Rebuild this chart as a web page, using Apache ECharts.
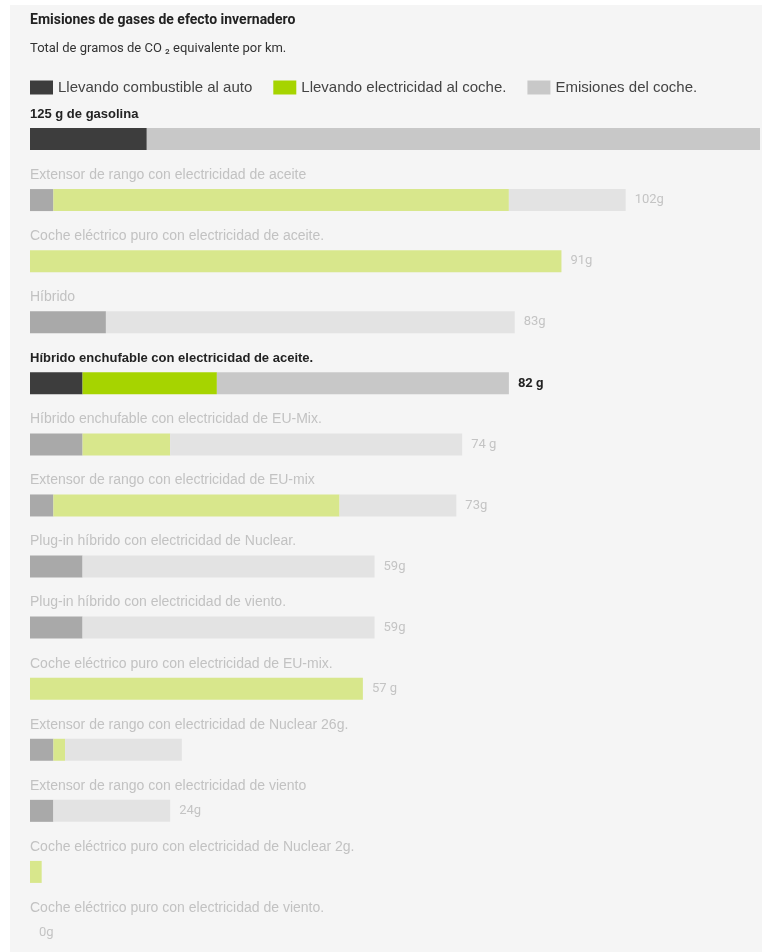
<!DOCTYPE html>
<html>
<head>
<meta charset="utf-8">
<script src="https://cdn.jsdelivr.net/npm/echarts@6/dist/echarts.min.js"></script>
<style>
  html, body { margin: 0; padding: 0; background: #fff; }
  #main { width: 766px; height: 952px; }
</style>
</head>
<body>
<div id="main"></div>
<script>
// filas, de arriba a abajo
const categories = [
  '125 g de gasolina',
  'Extensor de rango con electricidad de aceite',
  'Coche eléctrico puro con electricidad de aceite.',
  'Híbrido',
  'Híbrido enchufable con electricidad de aceite.',
  'Híbrido enchufable con electricidad de EU-Mix.',
  'Extensor de rango con electricidad de EU-mix',
  'Plug-in híbrido con electricidad de Nuclear.',
  'Plug-in híbrido con electricidad de viento.',
  'Coche eléctrico puro con electricidad de EU-mix.',
  'Extensor de rango con electricidad de Nuclear 26g.',
  'Extensor de rango con electricidad de viento',
  'Coche eléctrico puro con electricidad de Nuclear 2g.',
  'Coche eléctrico puro con electricidad de viento.'
];
const fuelToCar        = [20, 4, 0, 13, 9, 9, 4, 9, 9, 0, 4, 4, 0, 0];
const electricityToCar = [0, 78, 91, 0, 23, 15, 49, 0, 0, 57, 2, 0, 2, 0];
const carEmissions     = [105, 20, 0, 70, 50, 50, 20, 50, 50, 0, 20, 20, 0, 0];
const valueLabels = ['', '102g', '91g', '83g', '82 g', '74 g', '73g', '59g', '59g', '57 g', '', '24g', '', '0g'];
const highlighted = [true, false, false, false, true, false, false, false, false, false, false, false, false, false];

const colors = {
  fuel:  { hi: '#3d3d3d', lo: '#a9a9a9' },
  elec:  { hi: '#a6d400', lo: '#d8e78c' },
  emis:  { hi: '#c8c8c8', lo: '#e3e3e3' }
};

function paint(values, key) {
  return values.map((v, i) => ({
    value: v,
    itemStyle: { color: highlighted[i] ? colors[key].hi : colors[key].lo }
  }));
}

const chart = echarts.init(document.getElementById('main'));

const option = {
  backgroundColor: '#fff',
  animation: false,
  graphic: [{
    type: 'rect', z: -10, silent: true,
    shape: { x: 10, y: 5, width: 752, height: 947 },
    style: { fill: '#f5f5f5' }
  }],
  title: {
    text: 'Emisiones de gases de efecto invernadero',
    subtext: 'Total de gramos de CO ₂ equivalente por km.',
    left: 30, top: 13, padding: 0, itemGap: 15,
    textStyle: { fontFamily: 'Roboto', fontWeight: 'bold', fontSize: 14, color: '#222' },
    subtextStyle: { fontFamily: 'Roboto', fontSize: 13, color: '#333' }
  },
  legend: {
    left: 30, top: 80, padding: 0,
    icon: 'rect', itemWidth: 23, itemHeight: 14, itemGap: 21,
    selectedMode: false,
    textStyle: { fontFamily: 'Liberation Sans', fontSize: 15, color: '#444' },
    data: ['Llevando combustible al auto', 'Llevando electricidad al coche.', 'Emisiones del coche.']
  },
  grid: { left: 30, right: 6, top: 139, bottom: 19 },
  xAxis: {
    type: 'value', min: 0, max: 125, show: false
  },
  yAxis: {
    type: 'category',
    data: categories,
    inverse: true,
    boundaryGap: false,
    axisLine: { show: false },
    axisTick: { show: false },
    splitLine: { show: false },
    axisLabel: {
      inside: true,
      margin: 0,
      interval: 0,
      verticalAlign: 'bottom',
      padding: [0, 0, 18, 0],
      formatter: (v, i) => highlighted[i] ? '{hi|' + v + '}' : '{lo|' + v + '}',
      rich: {
        hi: { fontFamily: 'Liberation Sans', fontWeight: 'bold', fontSize: 13, color: '#222' },
        lo: { fontFamily: 'Liberation Sans', fontSize: 14, color: '#c2c2c2' }
      }
    }
  },
  series: [
    {
      name: 'Llevando combustible al auto', type: 'bar', stack: 'total',
      barWidth: 22, itemStyle: { color: colors.fuel.hi },
      data: paint(fuelToCar, 'fuel')
    },
    {
      name: 'Llevando electricidad al coche.', type: 'bar', stack: 'total',
      barWidth: 22, itemStyle: { color: colors.elec.hi },
      data: paint(electricityToCar, 'elec')
    },
    {
      name: 'Emisiones del coche.', type: 'bar', stack: 'total',
      barWidth: 22, itemStyle: { color: colors.emis.hi },
      data: paint(carEmissions, 'emis'),
      label: {
        show: true, position: 'right', distance: 9,
        formatter: p => {
          const t = valueLabels[p.dataIndex];
          if (!t) return '';
          return highlighted[p.dataIndex] ? '{hi|' + t + '}' : '{lo|' + t + '}';
        },
        rich: {
          hi: { fontFamily: 'Roboto', fontWeight: 'bold', fontSize: 13, color: '#222' },
          lo: { fontFamily: 'Roboto', fontSize: 13, color: '#c4c4c4' }
        }
      }
    }
  ]
};

chart.setOption(option);
</script>
</body>
</html>
